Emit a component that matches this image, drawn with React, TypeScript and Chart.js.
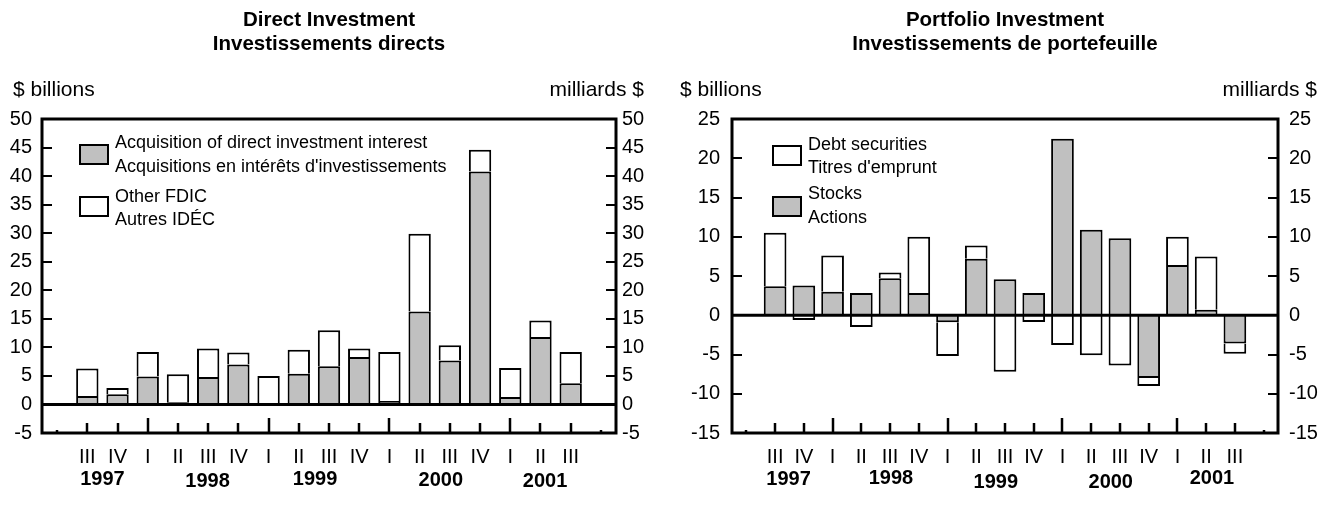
import React, { useEffect, useRef } from 'react';
import { Chart, registerables } from 'chart.js';

Chart.register(...registerables);

// ---------- DATA ----------
// 19 category slots: an empty slot at each end, then 1997 Q3 ... 2001 Q3
const quarterLabels = ['', 'III', 'IV', 'I', 'II', 'III', 'IV', 'I', 'II', 'III', 'IV', 'I', 'II', 'III', 'IV', 'I', 'II', 'III', ''];
const yearLabels = ['1997', '1998', '1999', '2000', '2001'];
// year label position expressed as (fractional) category index
const directYearIndex = [1.5, 4.98, 8.54, 12.7, 16.15];
const portfolioYearIndex = [1.47, 5.03, 8.68, 12.68, 16.2];
const yearQuarterOneIndex = [3, 7, 11, 15];

// Direct investment ($ billions)
const directAcquisition = [null, 1.5, 1.8, 4.9, 0.4, 4.8, 7.0, 0.2, 5.4, 6.7, 8.3, 0.6, 16.3, 7.7, 40.8, 1.3, 11.8, 3.7, null];
const directOther = [null, 4.8, 1.1, 4.3, 4.9, 5.0, 2.1, 4.8, 4.2, 6.3, 1.5, 8.6, 13.6, 2.65, 3.8, 5.1, 2.9, 5.5, null];

// Portfolio investment ($ billions)
const portfolioStocks = [null, 3.7, 3.8, 3.0, 2.85, 4.7, 2.85, -0.9, 7.2, 4.6, 2.85, 22.5, 10.9, 9.8, -8.0, 6.4, 0.7, -3.6, null];
const portfolioDebt = [null, 6.8, -0.6, 4.6, -1.5, 0.75, 7.15, -4.3, 1.7, -7.2, -0.85, -3.8, -5.1, -6.4, -1.0, 3.6, 6.8, -1.3, null];

// ---------- STYLE ----------
const FONT = '"Liberation Sans", Arial, Helvetica, sans-serif';
const GRAY = '#c0c0c0';
const W = 668;
const H = 510;

type LegendItem = { fill: string; lines: string[]; boxDy: number; textDy: number[] };

type PanelConfig = {
  titles: string[];
  gray: (number | null)[];
  white: (number | null)[];
  grayLabel: string;
  whiteLabel: string;
  min: number;
  max: number;
  yearIndex: number[];
  yearDy: number[];
  leftWidth: number;
  rightWidth: number;
  leftPad: number;
  rightPad: number;
  barPct: number;
  unitsLeftX: number;
  unitsRightX: number;
  legendBoxDx: number;
  legendTextDx: number;
  legend: LegendItem[];
};

const directCfg: PanelConfig = {
  titles: ['Direct Investment', 'Investissements directs'],
  gray: directAcquisition,
  white: directOther,
  grayLabel: 'Acquisition of direct investment interest',
  whiteLabel: 'Other FDIC',
  min: -5,
  max: 50,
  yearIndex: directYearIndex,
  yearDy: [0, 2, 0, 1, 2],
  leftWidth: 42,
  rightWidth: 52,
  leftPad: 10,
  rightPad: 6,
  barPct: 0.74,
  unitsLeftX: 13,
  unitsRightX: 644,
  legendBoxDx: 38,
  legendTextDx: 73,
  legend: [
    { fill: GRAY, lines: ['Acquisition of direct investment interest', "Acquisitions en intérêts d'investissements"], boxDy: 26, textDy: [29, 52.5] },
    { fill: '#ffffff', lines: ['Other FDIC', 'Autres IDÉC'], boxDy: 78, textDy: [83, 106] },
  ],
};

const portfolioCfg: PanelConfig = {
  titles: ['Portfolio Investment', 'Investissements de portefeuille'],
  gray: portfolioStocks,
  white: portfolioDebt,
  grayLabel: 'Stocks',
  whiteLabel: 'Debt securities',
  min: -15,
  max: 25,
  yearIndex: portfolioYearIndex,
  yearDy: [0, -1, 3, 3, -1],
  leftWidth: 64,
  rightWidth: 58,
  leftPad: 12,
  rightPad: 11,
  barPct: 0.79,
  unitsLeftX: 12,
  unitsRightX: 649,
  legendBoxDx: 41,
  legendTextDx: 76,
  legend: [
    { fill: '#ffffff', lines: ['Debt securities', "Titres d'emprunt"], boxDy: 27, textDy: [31, 54] },
    { fill: GRAY, lines: ['Stocks', 'Actions'], boxDy: 78, textDy: [80, 104] },
  ],
};

function makeDecor(cfg: PanelConfig) {
  return {
    id: 'decor',
    afterDraw(chart: any) {
      const { ctx, chartArea } = chart;
      const { left, right, top, bottom } = chartArea;
      const x = chart.scales.x;
      const y = chart.scales.y;
      ctx.save();
      ctx.strokeStyle = '#000';
      ctx.fillStyle = '#000';

      // zero line
      const y0 = y.getPixelForValue(0);
      ctx.lineWidth = 3;
      ctx.beginPath();
      ctx.moveTo(left, y0);
      ctx.lineTo(right, y0);
      ctx.stroke();

      // inward y ticks
      ctx.lineWidth = 2;
      y.ticks.forEach((t: any) => {
        const py = Math.round(y.getPixelForValue(t.value));
        ctx.beginPath();
        ctx.moveTo(left, py);
        ctx.lineTo(left + 10, py);
        ctx.moveTo(right - 10, py);
        ctx.lineTo(right, py);
        ctx.stroke();
      });

      // bottom ticks
      ctx.lineWidth = 2.5;
      for (let i = 0; i < quarterLabels.length; i++) {
        const px = Math.round(x.getPixelForValue(i));
        let len = 10;
        if (i === 0 || i === quarterLabels.length - 1) len = 3;
        else if (yearQuarterOneIndex.includes(i)) len = 15;
        ctx.beginPath();
        ctx.moveTo(px, bottom);
        ctx.lineTo(px, bottom - len);
        ctx.stroke();
      }

      // frame
      ctx.lineWidth = 3;
      ctx.strokeRect(left, top, right - left, bottom - top);

      // year labels
      ctx.font = `bold 20px ${FONT}`;
      ctx.textAlign = 'center';
      ctx.textBaseline = 'alphabetic';
      yearLabels.forEach((yl, k) => {
        ctx.fillText(yl, x.getPixelForValue(cfg.yearIndex[k]), 485 + cfg.yearDy[k]);
      });

      // titles
      const cx = (left + right) / 2;
      ctx.font = `bold 20.5px ${FONT}`;
      ctx.fillText(cfg.titles[0], cx, 26);
      ctx.fillText(cfg.titles[1], cx, 50);

      // units
      ctx.font = `21px ${FONT}`;
      ctx.textAlign = 'left';
      ctx.fillText('$ billions', cfg.unitsLeftX, 96);
      ctx.textAlign = 'right';
      ctx.fillText('milliards $', cfg.unitsRightX, 96);

      // legend
      ctx.textAlign = 'left';
      ctx.font = `18px ${FONT}`;
      cfg.legend.forEach((item) => {
        const bx = left + cfg.legendBoxDx;
        const by = top + item.boxDy;
        ctx.fillStyle = item.fill;
        ctx.fillRect(bx, by, 28, 19);
        ctx.lineWidth = 2;
        ctx.strokeStyle = '#000';
        ctx.strokeRect(bx, by, 28, 19);
        ctx.fillStyle = '#000';
        item.lines.forEach((ln, j) => {
          ctx.fillText(ln, left + cfg.legendTextDx, top + item.textDy[j]);
        });
      });
      ctx.restore();
    },
  };
}

function buildConfig(cfg: PanelConfig): any {
  const tickFont = { family: FONT, size: 20 };
  return {
    type: 'bar',
    data: {
      labels: quarterLabels,
      datasets: [
        {
          label: cfg.grayLabel,
          data: cfg.gray,
          backgroundColor: GRAY,
          borderColor: '#000',
          borderWidth: 2,
          stack: 's',
          barPercentage: cfg.barPct,
          categoryPercentage: 1,
        },
        {
          label: cfg.whiteLabel,
          data: cfg.white,
          backgroundColor: '#ffffff',
          borderColor: '#000',
          borderWidth: 2,
          stack: 's',
          barPercentage: cfg.barPct,
          categoryPercentage: 1,
        },
      ],
    },
    options: {
      responsive: false,
      animation: false,
      devicePixelRatio: 1,
      layout: { padding: { top: 119, left: 0, right: 0, bottom: 0 } },
      plugins: {
        legend: { display: false },
        tooltip: { enabled: false },
        title: { display: false },
      },
      scales: {
        x: {
          stacked: true,
          offset: true,
          grid: { display: false, drawTicks: false },
          border: { display: false },
          ticks: { font: tickFont, color: '#000', padding: 12, maxRotation: 0, autoSkip: false },
          afterFit: (s: any) => {
            s.height = 77;
          },
        },
        y: {
          stacked: true,
          position: 'left',
          min: cfg.min,
          max: cfg.max,
          grid: { display: false, drawTicks: false },
          border: { display: false },
          ticks: { stepSize: 5, font: tickFont, color: '#000', padding: cfg.leftPad, callback: (v: any) => String(v) },
          afterFit: (s: any) => {
            s.width = cfg.leftWidth;
          },
        },
        y2: {
          position: 'right',
          min: cfg.min,
          max: cfg.max,
          grid: { display: false, drawTicks: false },
          border: { display: false },
          ticks: { stepSize: 5, font: tickFont, color: '#000', padding: cfg.rightPad, callback: (v: any) => String(v) },
          afterFit: (s: any) => {
            s.width = cfg.rightWidth;
          },
        },
      },
    },
    plugins: [makeDecor(cfg)],
  };
}

function ChartPanel({ cfg }: { cfg: PanelConfig }) {
  const ref = useRef<HTMLCanvasElement>(null);
  useEffect(() => {
    const chart = new Chart(ref.current as HTMLCanvasElement, buildConfig(cfg));
    return () => chart.destroy();
  }, [cfg]);
  return <canvas ref={ref} width={W} height={H} style={{ display: 'block', width: W, height: H }} />;
}

export default function App() {
  return (
    <div style={{ position: 'absolute', left: 0, top: 0, width: 1336, height: 510, display: 'flex', background: '#fff' }}>
      <ChartPanel cfg={directCfg} />
      <ChartPanel cfg={portfolioCfg} />
    </div>
  );
}
